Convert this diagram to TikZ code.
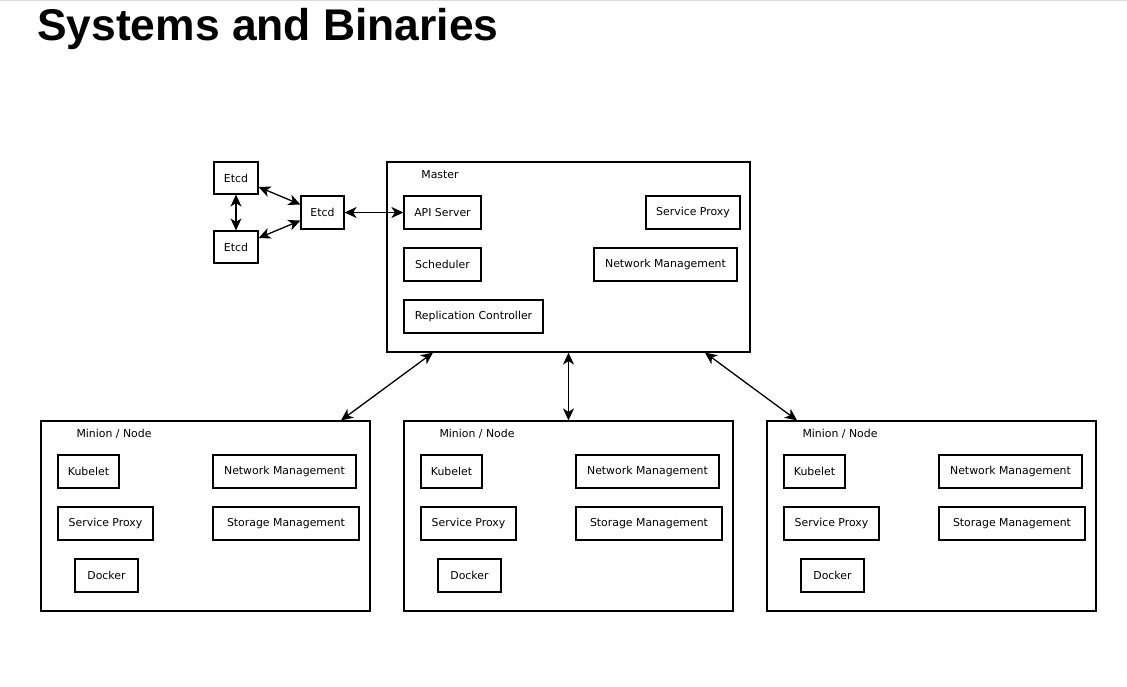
\documentclass[tikz,border=0pt]{standalone}
\usepackage{fontspec}
\setmainfont{DejaVu Sans}
\newfontfamily\titlefont{Liberation Sans}
\usetikzlibrary{arrows.meta}
\tikzset{box/.style={draw, line width=1.2pt, minimum height=33pt, inner sep=0pt, font=\fontsize{10.9}{12}\selectfont},
         frame/.style={draw, line width=1.2pt, minimum width=329pt, minimum height=190pt, inner sep=0pt},
         tag/.style={font=\fontsize{10.9}{12}\selectfont},
         link/.style={{Stealth[length=12pt, width=11pt, inset=3.5pt]}-{Stealth[length=12pt, width=11pt, inset=3.5pt]}, line width=1.3pt}}

\begin{document}
\begin{tikzpicture}[x=1pt, y=-1pt]
        \useasboundingbox (0,0) rectangle (1127,686);
        \draw[black!15, line width=1.5pt] (0,0.7) -- (1127,0.7);
        \node[anchor=base west, inner sep=0pt, font=\titlefont\bfseries\fontsize{44.4}{48}\selectfont] (title) at (37,40) {Systems and Binaries};
        % etcd
        \node[box, minimum width=44pt, minimum height=32pt] (etcdA) at (236,178) {Etcd};
        \node[box, minimum width=44pt, minimum height=32pt] (etcdB) at (236,247) {Etcd};
        \node[box, minimum width=43pt] (etcdC) at (322.5,212.5) {Etcd};
        % master
        \node[frame, minimum width=363pt] (master) at (568.5,257) {};
        \node[tag] (mlabel) at (440,175) {Master};
        \node[box, minimum width=77pt] (api) at (442.5,212.5) {API Server};
        \node[box, minimum width=77pt] (sched) at (442.5,264.5) {Scheduler};
        \node[box, minimum width=139pt] (repl) at (473.5,316.5) {Replication Controller};
        \node[box, minimum width=94pt] (mproxy) at (693,212.5) {Service Proxy};
        \node[box, minimum width=143pt] (mnet) at (665.5,264.5) {Network Management};
        % minion 1
        \node[frame] (minA) at (205.5,516) {};
        \node[tag] (labA) at (114,434) {Minion / Node};
        \node[box, minimum width=61pt] (kubA) at (88.5,471.5) {Kubelet};
        \node[box, minimum width=95pt] (proxA) at (105.5,523.5) {Service Proxy};
        \node[box, minimum width=63pt] (dockA) at (106.5,575.5) {Docker};
        \node[box, minimum width=143pt] (netA) at (284.5,471.5) {Network Management};
        \node[box, minimum width=146pt] (storA) at (286,523.5) {Storage Management};
        % minion 2
        \node[frame] (minB) at (568.5,516) {};
        \node[tag] (labB) at (477,434) {Minion / Node};
        \node[box, minimum width=61pt] (kubB) at (451.5,471.5) {Kubelet};
        \node[box, minimum width=95pt] (proxB) at (468.5,523.5) {Service Proxy};
        \node[box, minimum width=63pt] (dockB) at (469.5,575.5) {Docker};
        \node[box, minimum width=143pt] (netB) at (647.5,471.5) {Network Management};
        \node[box, minimum width=146pt] (storB) at (649,523.5) {Storage Management};
        % minion 3
        \node[frame] (minC) at (931.5,516) {};
        \node[tag] (labC) at (840,434) {Minion / Node};
        \node[box, minimum width=61pt] (kubC) at (814.5,471.5) {Kubelet};
        \node[box, minimum width=95pt] (proxC) at (831.5,523.5) {Service Proxy};
        \node[box, minimum width=63pt] (dockC) at (832.5,575.5) {Docker};
        \node[box, minimum width=143pt] (netC) at (1010.5,471.5) {Network Management};
        \node[box, minimum width=146pt] (storC) at (1012,523.5) {Storage Management};
        % links
        \draw[link] (etcdA) -- (etcdB);
        \draw[link] ([yshift=-9pt]etcdA.east) -- ([yshift=8pt]etcdC.west);
        \draw[link] ([yshift=9pt]etcdB.east) -- ([yshift=-8pt]etcdC.west);
        \draw[link] (etcdC) -- (api);
        \draw[link] ([xshift=-135.5pt]master.south) -- ([xshift=135.5pt]minA.north);
        \draw[link] (master) -- (minB);
        \draw[link] ([xshift=136.5pt]master.south) -- ([xshift=-134.5pt]minC.north);
\end{tikzpicture}
\end{document}
